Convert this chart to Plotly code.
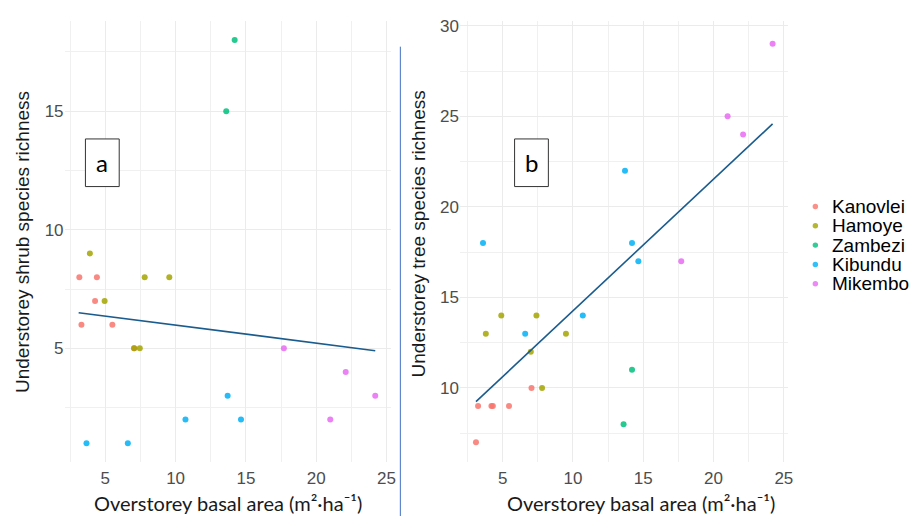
import plotly.graph_objects as go

sites = ["Kanovlei", "Hamoye", "Zambezi", "Kibundu", "Mikembo"]
colors = ["#F8766D", "#A3A500", "#00BF7D", "#00B0F6", "#E76BF3"]

# Panel a: understorey shrub species richness
shrub_x = {
    "Kanovlei": [3.15, 4.4, 4.27, 3.3, 5.5, 7.05],
    "Hamoye": [3.9, 7.8, 9.55, 4.95, 7.45, 7.05],
    "Zambezi": [14.2, 13.6],
    "Kibundu": [3.66, 6.6, 10.7, 14.65, 13.7],
    "Mikembo": [17.7, 22.1, 24.2, 21.0],
}
shrub_y = {
    "Kanovlei": [8, 8, 7, 6, 6, 5],
    "Hamoye": [9, 8, 8, 7, 5, 5],
    "Zambezi": [18, 15],
    "Kibundu": [1, 1, 2, 2, 3],
    "Mikembo": [5, 4, 3, 2],
}
# Panel b: understorey tree species richness
tree_x = {
    "Kanovlei": [3.25, 4.2, 4.3, 5.45, 3.1, 7.05],
    "Hamoye": [3.8, 4.9, 7.4, 9.5, 7.0, 7.8],
    "Zambezi": [14.2, 13.6],
    "Kibundu": [3.6, 13.7, 14.2, 14.65, 10.7, 6.6],
    "Mikembo": [24.2, 21.0, 22.1, 17.7],
}
tree_y = {
    "Kanovlei": [9, 9, 9, 9, 7, 10],
    "Hamoye": [13, 14, 14, 13, 12, 10],
    "Zambezi": [11, 8],
    "Kibundu": [18, 22, 18, 17, 14, 13],
    "Mikembo": [29, 25, 24, 17],
}
# linear fits (intercept, slope) and x extent
fit_a = [6.74, -0.076]
fit_b = [6.99, 0.727]
fit_x = [3.1, 24.2]

x_title = "Overstorey basal area (m²·ha⁻¹)"
ya_title = "Understorey shrub species richness"
yb_title = "Understorey tree species richness"

fig = go.Figure()
for s, c in zip(sites, colors):
    fig.add_trace(go.Scatter(x=shrub_x[s], y=shrub_y[s], mode="markers", name=s,
                             marker=dict(color=c, size=6, opacity=0.85),
                             xaxis="x", yaxis="y", showlegend=False))
    fig.add_trace(go.Scatter(x=tree_x[s], y=tree_y[s], mode="markers", name=s,
                             marker=dict(color=c, size=6, opacity=0.85),
                             xaxis="x2", yaxis="y2", showlegend=False))

fig.add_trace(go.Scatter(x=fit_x, y=[fit_a[0] + fit_a[1] * v for v in fit_x], mode="lines",
                         line=dict(color="#1B5C8E", width=1.6), xaxis="x", yaxis="y", showlegend=False))
fig.add_trace(go.Scatter(x=fit_x, y=[fit_b[0] + fit_b[1] * v for v in fit_x], mode="lines",
                         line=dict(color="#1B5C8E", width=1.6), xaxis="x2", yaxis="y2", showlegend=False))

tickfont = dict(family="Liberation Sans, Arial", size=17, color="#4D4D4D")
common = dict(showline=False, zeroline=False, ticks="", tickfont=tickfont,
              gridcolor="#EBEBEB", gridwidth=1,
              minor=dict(showgrid=True, gridcolor="#F0F0F0", gridwidth=1))

ydom = [54 / 516, 499 / 516]
fig.update_layout(
    width=912, height=516, autosize=False,
    margin=dict(l=0, r=0, t=0, b=0),
    paper_bgcolor="white", plot_bgcolor="white",
    xaxis=dict(domain=[65 / 912, 394 / 912], range=[2.1, 25.35], dtick=5, tick0=0,
               minor_dtick=2.5, anchor="y", ticklabelstandoff=4, **common),
    yaxis=dict(domain=ydom, range=[0.19, 18.81], dtick=5, tick0=0,
               minor_dtick=2.5, anchor="x", **common),
    xaxis2=dict(domain=[463 / 912, 793 / 912], range=[1.96, 25.28], dtick=5, tick0=0,
                minor_dtick=2.5, anchor="y2", ticklabelstandoff=4, **common),
    yaxis2=dict(domain=ydom, range=[5.89, 30.27], dtick=5, tick0=0,
                minor_dtick=2.5, anchor="x2", **common),
    showlegend=False,
)

def ctext(text, x, y, font, angle=0):
    return dict(text=text, x=x / 912, y=(516 - y) / 516, xref="paper", yref="paper",
                xanchor="center", yanchor="middle", textangle=angle, showarrow=False, font=font)

xfont = dict(family="Lato", size=20, color="#1a1a1a")
yfont = dict(family="Liberation Sans, Arial", size=19, color="#1a1a1a")
ann = [
    ctext(x_title, 230, 503, xfont),
    ctext(x_title, 645, 503, xfont),
    ctext(ya_title, 22, 240, yfont, -90),
    ctext(yb_title, 421, 232, yfont, -90),
    ctext("a", 103, 160, dict(family="Lato", size=24, color="black")),
    ctext("b", 535, 160, dict(family="Lato", size=24, color="black")),
]

shapes = []
for x0, x1 in [(86, 120), (518, 552)]:
    shapes.append(dict(type="rect", xref="paper", yref="paper",
                       x0=x0 / 912, x1=x1 / 912, y0=(516 - 184) / 516, y1=(516 - 136) / 516,
                       line=dict(color="#333333", width=1), fillcolor="white"))
shapes.append(dict(type="line", xref="paper", yref="paper", x0=403 / 912, x1=403 / 912,
                   y0=0, y1=(516 - 43) / 516, line=dict(color="#4472C4", width=1)))

# legend
row_y = [204.0, 223.5, 243.0, 262.5, 282.0]
for s, c, ry in zip(sites, colors, row_y):
    shapes.append(dict(type="circle", xref="paper", yref="paper",
                       x0=818 / 912, x1=823.5 / 912, y0=(516 - ry - 2.75) / 516, y1=(516 - ry + 2.75) / 516,
                       fillcolor=c, line=dict(width=0), opacity=0.8))
    ann.append(dict(text=s, x=835 / 912, y=(516 - ry) / 516, xref="paper", yref="paper",
                    xanchor="left", yanchor="middle", showarrow=False,
                    font=dict(family="Liberation Sans, Arial", size=19, color="black")))

fig.update_layout(annotations=ann, shapes=shapes)
fig.write_html("out.html")
